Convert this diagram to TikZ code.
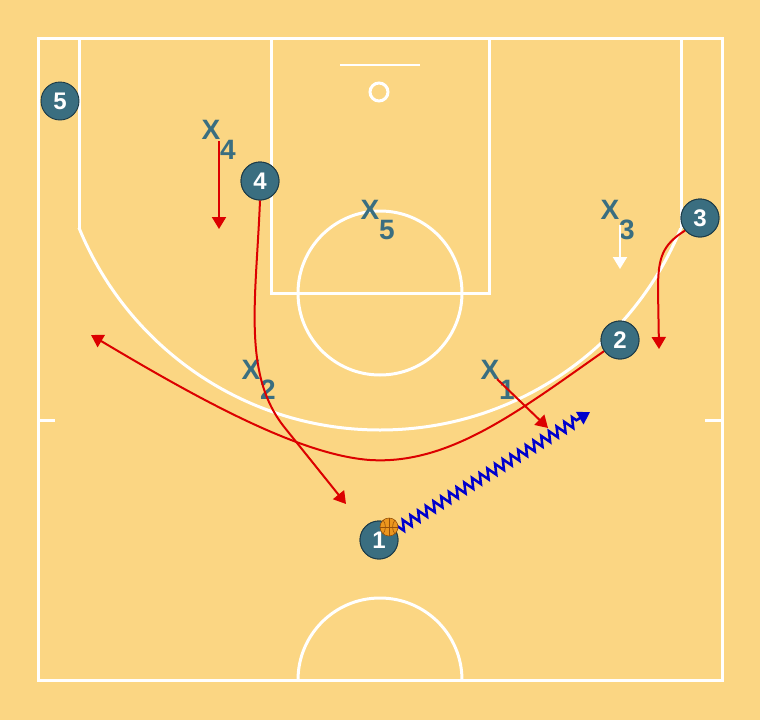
\documentclass[tikz,border=0pt]{standalone}
\usepackage{fontspec}
\setmainfont{Liberation Sans}
\usetikzlibrary{arrows.meta,decorations.pathmorphing}
\definecolor{bg}{RGB}{251,214,131}
\definecolor{teal1}{RGB}{58,110,128}
\definecolor{tealdk}{RGB}{28,58,70}
\definecolor{cred}{RGB}{220,0,0}
\definecolor{cblue}{RGB}{0,0,205}
\definecolor{ballc}{RGB}{236,150,30}
\definecolor{balldk}{RGB}{150,80,10}
\begin{document}
\begin{tikzpicture}[x=1pt,y=-1pt,
  court/.style={draw=white,line width=3pt},
  player/.style={circle,fill=teal1,draw=tealdk,line width=0.9pt,minimum size=38pt,inner sep=0pt,text=white,font=\fontsize{24}{24}\selectfont\bfseries},
  defx/.style={text=teal1,font=\fontsize{28}{28}\selectfont\bfseries,inner sep=0pt},
  cut/.style={draw=cred,line width=2pt,-{Triangle[length=12pt,width=14pt]}},
  wcut/.style={draw=white,line width=2pt,-{Triangle[length=12pt,width=14pt]}},
  dribble/.style={draw=cblue,line width=2.5pt,decorate,decoration={zigzag,segment length=9pt,amplitude=5pt,post=lineto,post length=12pt},-{Triangle[length=12pt,width=14pt]}}
]
\useasboundingbox (0,0) rectangle (760,720);
\fill[bg] (0,0) rectangle (760,720);

% court
\draw[court] (38,38) rectangle (722,680);
\draw[court] (79,38) -- (79,228);
\draw[court] (681,38) -- (681,228);
\begin{scope}
  \clip (60,228) rectangle (700,700);
  \draw[court] (380,105) circle[radius=325pt];
\end{scope}
\draw[court] (271,38) -- (271,293) -- (489,293) -- (489,38);
\draw[court] (380,293) circle[radius=82pt];
\draw[court,line width=2pt] (340,65) -- (420,65);
\draw[court] (379,92) circle[radius=9pt];
\draw[court] (38,420) -- (55,420);
\draw[court] (705,420) -- (722,420);
\begin{scope}
  \clip (0,0) rectangle (760,680);
  \draw[court] (380,680) circle[radius=82pt];
\end{scope}

% players
\node[player] (p5) at (60,101) {5};
\node[player] (p4) at (260,181) {4};
\node[player] (p3) at (700,218) {3};
\node[player] (p2) at (620,340) {2};
\node[player] (p1) at (379,540) {1};

% defenders
\node[defx] (x4) at (211,130) {X};
\node[defx] (x4n) at (228,150) {4};
\node[defx] (x5) at (370,210) {X};
\node[defx] (x5n) at (387,230) {5};
\node[defx] (x3) at (610,210) {X};
\node[defx] (x3n) at (627,230) {3};
\node[defx] (x2) at (251,370) {X};
\node[defx] (x2n) at (268,390) {2};
\node[defx] (x1) at (490,370) {X};
\node[defx] (x1n) at (507,390) {1};

% coordinates
\coordinate (x4s) at (219,141);
\coordinate (x4e) at (219,229);
\coordinate (x3s) at (620,225);
\coordinate (x3e) at (620,269);
\coordinate (x1s) at (497,379);
\coordinate (x1e) at (548,428);
\coordinate (c4e) at (346,504);
\coordinate (c2e) at (91,335);
\coordinate (c3e) at (659,349);
\coordinate (de) at (590,412);

% movements
\draw[cut] (x4s) -- (x4e);
\draw[wcut] (x3s) -- (x3e);
\draw[cut] (x1s) -- (x1e);
\draw[cut] (p4.south) .. controls (256,300) and (242,375) .. (285,428) -- (c4e);
\draw[cut] (p2.215) .. controls (520,410) and (450,465) .. (370,460) .. controls (300,455) and (200,400) .. (c2e);
\draw[cut] (p3.220) .. controls (662,245) and (658,258) .. (658,290) -- (c3e);
\draw[dribble] (p1.31) -- (de);

% redraw players on top
\node[player] at (p4) {4};
\node[player] at (p3) {3};
\node[player] at (p2) {2};
\node[player] at (p1) {1};

% ball
\node[circle,fill=ballc,draw=balldk,line width=0.6pt,minimum size=18pt,inner sep=0pt] (ball) at (389,527) {};
\draw[balldk,line width=0.6pt] (ball.north) -- (ball.south);
\draw[balldk,line width=0.6pt] (ball.west) -- (ball.east);
\draw[balldk,line width=0.6pt] (ball.130) to[bend left=35] (ball.230);
\draw[balldk,line width=0.6pt] (ball.50) to[bend right=35] (ball.-50);
\end{tikzpicture}
\end{document}
